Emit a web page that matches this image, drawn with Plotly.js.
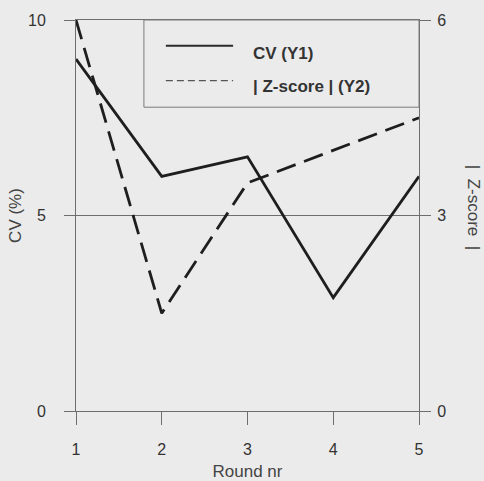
<!DOCTYPE html>
<html>
<head>
<meta charset="utf-8">
<script src="https://cdn.plot.ly/plotly-3.0.1.min.js"></script>
<style>
  html, body { margin: 0; padding: 0; background: #ebebeb; }
  #chart { width: 484px; height: 481px; }
</style>
</head>
<body>
<div id="chart"></div>
<script>
// Data
const rounds = [1, 2, 3, 4, 5];
const cvValues = [9.0, 6.0, 6.5, 2.9, 6.0];        // CV (%) on left axis
const zscoreValues = [6.0, 1.5, 3.5, 4.0, 4.5];    // |Z-score| on right axis
const seriesNames = ['CV (Y1)', '| Z-score | (Y2)'];
const yTicks = [0, 5, 10];
const y2Ticks = [0, 3, 6];

const axisGray = '#6e6e6e';
const textGray = '#333333';
const titleGray = '#444444';
const fam = 'Liberation Sans, Arial, sans-serif';

const traces = [
  {
    x: rounds, y: cvValues, name: seriesNames[0], type: 'scatter', mode: 'lines',
    line: { color: '#1e1e1e', width: 2.8 }, yaxis: 'y', showlegend: false
  },
  {
    x: rounds, y: zscoreValues, name: seriesNames[1], type: 'scatter', mode: 'lines',
    line: { color: '#1e1e1e', width: 2.8, dash: '20px,9px' }, yaxis: 'y2', showlegend: false
  }
];

const layout = {
  width: 484, height: 481,
  margin: { l: 76, r: 65, t: 20, b: 70 },
  paper_bgcolor: '#ebebeb', plot_bgcolor: '#ebebeb',
  font: { family: fam, size: 16, color: textGray },
  showlegend: false,
  xaxis: {
    range: [1, 5], tickvals: rounds, ticktext: rounds.map(String),
    ticks: 'outside', ticklen: 13, tickcolor: axisGray, tickwidth: 1,
    showgrid: false, zeroline: false,
    showline: true, mirror: true, linecolor: axisGray, linewidth: 1,
    tickfont: { family: fam, size: 16, color: textGray },
    ticklabelstandoff: 11,
    title: { text: 'Round nr', font: { family: fam, size: 17, color: titleGray }, standoff: 7 }
  },
  yaxis: {
    range: [0, 10], tickvals: yTicks,
    ticks: 'outside', ticklen: 11, tickcolor: axisGray, tickwidth: 1,
    showgrid: true, gridcolor: axisGray, gridwidth: 1, zeroline: false,
    showline: true, linecolor: axisGray, linewidth: 1,
    tickfont: { family: fam, size: 16, color: textGray },
    ticklabelstandoff: 15,
    title: { text: 'CV (%)', font: { family: fam, size: 17, color: titleGray }, standoff: 2 }
  },
  yaxis2: {
    range: [0, 6], tickvals: y2Ticks, overlaying: 'y', side: 'right',
    ticks: 'outside', ticklen: 11, tickcolor: axisGray, tickwidth: 1,
    showgrid: false, zeroline: false,
    showline: true, linecolor: axisGray, linewidth: 1,
    tickfont: { family: fam, size: 16, color: textGray },
    ticklabelstandoff: 3
  },
  shapes: [
    // legend box
    { type: 'rect', xref: 'paper', yref: 'paper', x0: 0.198, x1: 1.0, y0: 0.777, y1: 1.0,
      line: { color: '#7a7a7a', width: 1 }, fillcolor: 'rgba(0,0,0,0)' },
    // legend samples
    { type: 'line', xref: 'paper', yref: 'paper', x0: 0.262, x1: 0.458, y0: 0.934, y1: 0.934,
      line: { color: '#2a2a2a', width: 2 } },
    { type: 'line', xref: 'paper', yref: 'paper', x0: 0.262, x1: 0.458, y0: 0.845, y1: 0.845,
      line: { color: '#555555', width: 1.3, dash: '7px,4px' } }
  ],
  annotations: [
    { xref: 'paper', yref: 'paper', x: 0.51, y: 0.915, xanchor: 'left', yanchor: 'middle',
      text: '<b>' + seriesNames[0] + '</b>', showarrow: false,
      font: { family: fam, size: 17, color: '#333333' } },
    { xref: 'paper', yref: 'paper', x: 0.51, y: 0.831, xanchor: 'left', yanchor: 'middle',
      text: '<b>' + seriesNames[1] + '</b>', showarrow: false,
      font: { family: fam, size: 17, color: '#333333' } },
    // right axis title, rotated clockwise
    { xref: 'paper', yref: 'paper', x: 1.157, y: 0.52, xanchor: 'center', yanchor: 'middle',
      text: '|&nbsp;&nbsp;Z-score&nbsp;&nbsp;|', textangle: 90, showarrow: false,
      font: { family: fam, size: 17, color: titleGray } }
  ]
};

Plotly.newPlot('chart', traces, layout, { displayModeBar: false, staticPlot: true });
</script>
</body>
</html>
